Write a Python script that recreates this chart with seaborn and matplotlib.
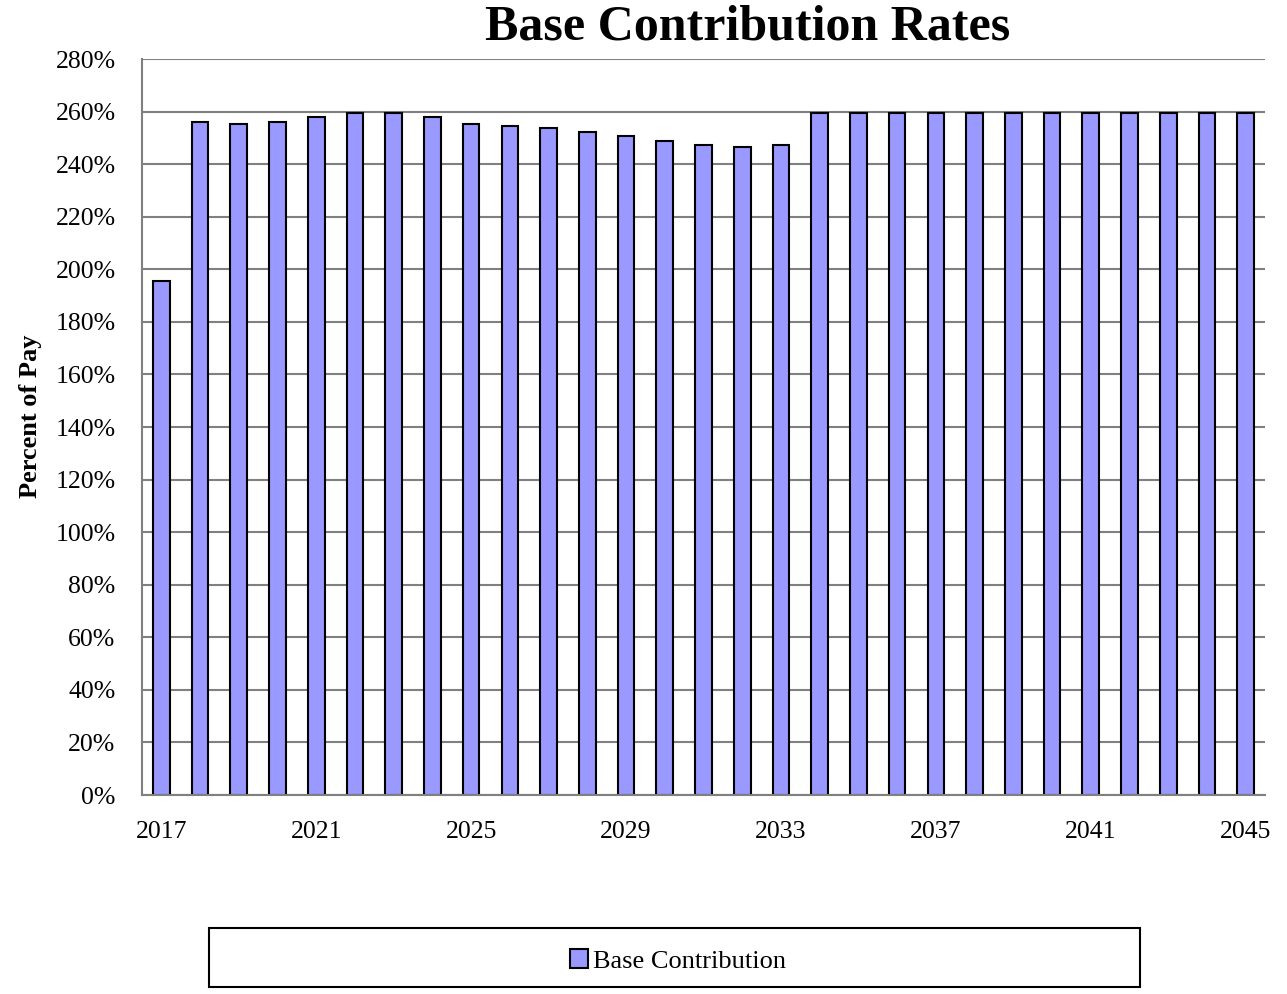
import seaborn as sns
import pandas as pd
import matplotlib.pyplot as plt
from matplotlib.patches import Rectangle
from matplotlib.ticker import FixedLocator

years = list(range(2017, 2046))
base_contribution = [195.6, 256.1, 255.4, 256.1, 257.8, 259.3, 259.3, 257.8, 255.4, 254.6,
                     253.6, 252.1, 250.6, 248.9, 247.4, 246.5, 247.4, 259.3, 259.3, 259.3,
                     259.3, 259.3, 259.3, 259.3, 259.3, 259.3, 259.3, 259.3, 259.3]
ytick_values = list(range(0, 281, 20))

df = pd.DataFrame({'Year': [str(y) for y in years], 'Rate': base_contribution})

sns.set_style('white')
plt.rcParams['font.family'] = ['Liberation Serif', 'DejaVu Serif']
plt.rcParams['text.color'] = 'black'
plt.rcParams['axes.labelcolor'] = 'black'
plt.rcParams['xtick.labelcolor'] = 'black'
plt.rcParams['ytick.labelcolor'] = 'black'

fig = plt.figure(figsize=(12.87, 9.94), dpi=100)
ax = fig.add_axes([142/1287, 1 - 795/994, (1265 - 142)/1287, (795 - 59)/994])

sns.barplot(ax=ax, data=df, x='Year', y='Rate', color='#9999FF', saturation=1,
            edgecolor='black', linewidth=1.5, width=0.43, label='Base Contribution')

ax.set_xlim(-0.5, len(years) - 0.5)
ax.set_ylim(0, 280)
ax.set_yticks(ytick_values)
ax.set_yticklabels([f"{v}%" for v in ytick_values])
ax.yaxis.grid(True, color='#808080', linewidth=1.5)
ax.set_axisbelow(True)

label_pos = [i for i, y in enumerate(years) if (y - 2017) % 4 == 0]
ax.set_xticks(label_pos)
ax.set_xticklabels([str(years[i]) for i in label_pos])
ax.xaxis.set_minor_locator(FixedLocator([i - 0.5 for i in range(len(years) + 1)]))
ax.tick_params(axis='x', which='major', length=0, pad=19, labelsize=18.5)
ax.tick_params(axis='x', which='minor', length=7, width=1.5, color='#808080', direction='out')
ax.tick_params(axis='y', length=7, width=1.5, color='#808080', direction='out', pad=12, labelsize=18.5)

for s in ['top', 'right']:
    ax.spines[s].set_visible(False)
for s in ['left', 'bottom']:
    ax.spines[s].set_color('#808080')
    ax.spines[s].set_linewidth(1.5)

ax.set_xlabel('')
ax.set_ylabel('Percent of Pay', fontsize=19, fontweight='bold')
ax.yaxis.set_label_coords(-0.089, 0.515)
if ax.get_legend() is not None:
    ax.get_legend().remove()

fig.text(748/1287, 1 - 28/994, 'Base Contribution Rates', ha='center', va='center',
         fontsize=36, fontweight='bold')

fig.patches.append(Rectangle((209/1287, 1 - 987/994), (1140 - 209)/1287, 59/994,
                             transform=fig.transFigure, fill=False, edgecolor='black',
                             linewidth=1.5))
handles, labels = ax.get_legend_handles_labels()
fig.legend(handles, labels, loc='center', bbox_to_anchor=(678/1287, 1 - 961/994),
           frameon=False, fontsize=19, handlelength=0.7, handleheight=0.7,
           handletextpad=0.2)

fig.savefig('out.png', dpi=100)
